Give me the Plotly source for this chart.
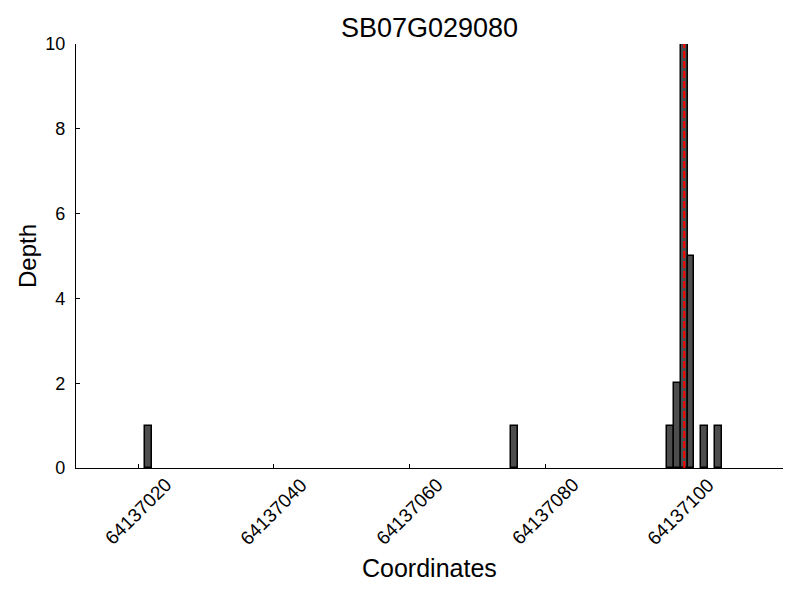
import plotly.graph_objects as go

positions = [64137021, 64137075, 64137098, 64137099, 64137100, 64137101, 64137103, 64137105]
depths = [1, 1, 1, 2, 10, 5, 1, 1]
snp_position = 64137100.5
tick_vals = [64137020, 64137040, 64137060, 64137080, 64137100]
y_ticks = [0, 2, 4, 6, 8, 10]
title_text = "SB07G029080"
x_label = "Coordinates"
y_label = "Depth"

# page body has an 8px offset; compensate so the plot lands where the reference has it
OFF = 8
L, R, T, B = 76 - OFF, 17 + OFF, 44 - OFF, 132 + OFF
W, H = 800, 600
ph = H - T - B
pw = W - L - R

fig = go.Figure()
fig.add_trace(go.Bar(
    x=positions, y=depths, width=[1] * len(positions), offset=0,
    marker=dict(color="#4d4d4d", line=dict(color="black", width=1.5)),
    showlegend=False,
))
fig.add_trace(go.Scatter(
    x=[snp_position, snp_position], y=[0, 10], mode="lines",
    line=dict(color="red", width=2, dash="7px,3px"), showlegend=False,
))

font_family = "Liberation Sans, Arial, sans-serif"
fig.update_layout(
    width=W, height=H,
    plot_bgcolor="white", paper_bgcolor="white",
    margin=dict(l=L, r=R, t=T, b=B),
    title=dict(text=title_text, x=(L + W - R) / 2 / W, xanchor="center",
               y=1 - (28 - OFF) / H, yanchor="middle",
               font=dict(family=font_family, size=27, color="black")),
    font=dict(family=font_family, color="black"),
    bargap=0,
)
fig.update_xaxes(
    range=[64137010.85, 64137115.05],
    tickvals=tick_vals, showticklabels=False,
    ticks="inside", ticklen=4, tickcolor="black",
    showline=True, linecolor="black", linewidth=1.2,
    showgrid=False, zeroline=False, automargin=False,
)
fig.update_yaxes(
    range=[0, 10], tickvals=y_ticks,
    tickfont=dict(size=18), ticklabelstandoff=6,
    ticks="inside", ticklen=4, tickcolor="black",
    showline=True, linecolor="black", linewidth=1.2,
    showgrid=False, zeroline=False, automargin=False,
)

for v in tick_vals:
    fig.add_annotation(
        x=v, xref="x", y=-3 / ph, yref="paper",
        text=str(v), textangle=-45, showarrow=False,
        xanchor="center", yanchor="top",
        font=dict(size=19, family=font_family, color="black"),
    )

fig.add_annotation(
    x=0.5, xref="paper", y=-(568 - OFF - (T + ph)) / ph, yref="paper",
    text=x_label, showarrow=False, xanchor="center", yanchor="middle",
    font=dict(size=25, family=font_family, color="black"),
)
fig.add_annotation(
    x=-(L - (27 - OFF)) / pw, xref="paper", y=0.5, yref="paper",
    text=y_label, textangle=-90, showarrow=False,
    xanchor="center", yanchor="middle",
    font=dict(size=24, family=font_family, color="black"),
)
fig.write_html("out.html")
